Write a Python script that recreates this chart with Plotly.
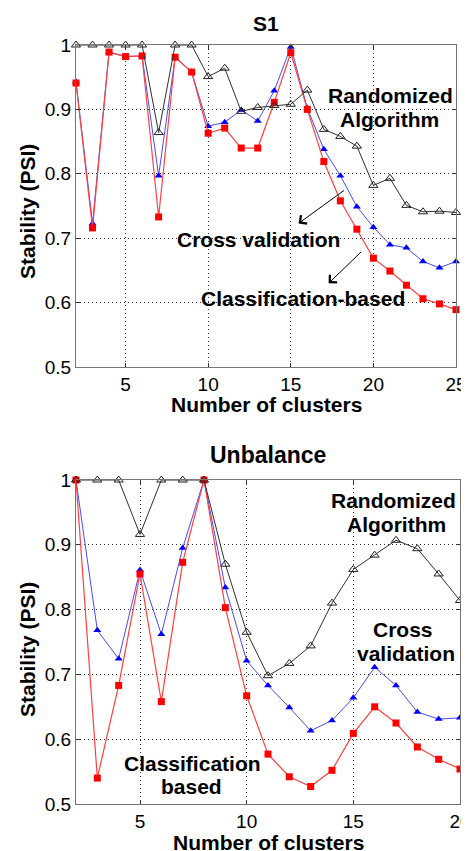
import plotly.graph_objects as go

# ---------------- data ----------------
s1_k = list(range(2, 26))
s1_randomized = [1.0, 1.0, 1.0, 1.0, 1.0, 0.864, 1.0, 1.0, 0.951, 0.964, 0.897, 0.903,
                 0.906, 0.908, 0.930, 0.869, 0.858, 0.843, 0.782, 0.793, 0.751, 0.741,
                 0.742, 0.740]
s1_cross = [0.943, 0.723, 0.989, 0.982, 0.983, 0.797, 0.981, 0.958, 0.874, 0.880, 0.899,
            0.882, 0.929, 0.997, 0.902, 0.838, 0.797, 0.749, 0.717, 0.690, 0.685, 0.664,
            0.654, 0.664]
s1_class = [0.941, 0.716, 0.989, 0.982, 0.983, 0.733, 0.981, 0.958, 0.863, 0.871, 0.840,
            0.840, 0.911, 0.988, 0.900, 0.819, 0.758, 0.714, 0.669, 0.649, 0.627, 0.606,
            0.598, 0.589]

ub_k = list(range(2, 21))
ub_randomized = [1.0, 1.0, 1.0, 0.916, 1.0, 1.0, 1.0, 0.870, 0.765, 0.698, 0.717, 0.744,
                 0.810, 0.862, 0.884, 0.907, 0.894, 0.855, 0.814]
ub_cross = [1.0, 0.768, 0.724, 0.861, 0.762, 0.895, 1.0, 0.834, 0.721, 0.683, 0.649,
            0.613, 0.629, 0.664, 0.711, 0.683, 0.642, 0.631, 0.633]
ub_class = [1.0, 0.540, 0.683, 0.855, 0.658, 0.873, 1.0, 0.803, 0.667, 0.577, 0.542,
            0.527, 0.552, 0.609, 0.650, 0.625, 0.588, 0.569, 0.554]

y_ticks = [0.5, 0.6, 0.7, 0.8, 0.9, 1.0]
y_ticktext = ["0.5", "0.6", "0.7", "0.8", "0.9", "1"]
s1_xticks = [5, 10, 15, 20, 25]
ub_xticks = [5, 10, 15, 20]

# ---------------- figure ----------------
# The page body has an 8px margin; lay the figure out 8px up/left so it
# fills the window.
OFF = 8
W, H = 469 - OFF, 851 - OFF
FONT = "Liberation Sans, Arial, Helvetica, sans-serif"


def fx(px):
    return (px - OFF) / W


def fy(py):
    return 1 - (py - OFF) / H


fig = go.Figure()


def add_series(k, cross, cls, rnd, xa, ya):
    fig.add_trace(go.Scatter(x=k, y=cross, mode="lines+markers", xaxis=xa, yaxis=ya,
                             line=dict(color="#4a4aff", width=1),
                             marker=dict(symbol="triangle-up", size=7, color="#0000ff"),
                             cliponaxis=False, showlegend=False))
    fig.add_trace(go.Scatter(x=k, y=cls, mode="lines+markers", xaxis=xa, yaxis=ya,
                             line=dict(color="#ff4040", width=1.2),
                             marker=dict(symbol="square", size=7, color="#ff0000"),
                             cliponaxis=False, showlegend=False))
    fig.add_trace(go.Scatter(x=k, y=rnd, mode="lines+markers", xaxis=xa, yaxis=ya,
                             line=dict(color="#303030", width=1),
                             marker=dict(symbol="triangle-up-open", size=8, color="#202020",
                                         line=dict(width=1, color="#202020")),
                             cliponaxis=False, showlegend=False))


add_series(s1_k, s1_cross, s1_class, s1_randomized, "x", "y")
add_series(ub_k, ub_cross, ub_class, ub_randomized, "x2", "y2")

axis_common = dict(showline=True, linecolor="#777777", linewidth=1, mirror="ticks",
                   ticks="inside", ticklen=4, tickcolor="#333333", automargin=False,
                   ticklabeloverflow="allow",
                   showgrid=True, gridcolor="#333333", griddash="1px,3px", gridwidth=1,
                   zeroline=False, tickfont=dict(family=FONT, size=19, color="black"))

fig.update_layout(
    width=W, height=H,
    margin=dict(l=0, r=0, t=0, b=0),
    paper_bgcolor="white", plot_bgcolor="white",
    xaxis=dict(domain=[fx(76), fx(456)], range=[2, 25], tickvals=s1_xticks,
               anchor="y", **axis_common),
    yaxis=dict(domain=[fy(367), fy(45)], range=[0.5, 1], tickvals=y_ticks,
               ticktext=y_ticktext, anchor="x", **axis_common),
    xaxis2=dict(domain=[fx(76), fx(460)], range=[2, 20], tickvals=ub_xticks,
                anchor="y2", **axis_common),
    yaxis2=dict(domain=[fy(804), fy(480)], range=[0.5, 1], tickvals=y_ticks,
                ticktext=y_ticktext, anchor="x2", **axis_common),
)

BF = dict(family=FONT, size=21, color="black", weight="bold")
ann = []


def ptext(text, x, y, size=21, angle=0):
    ann.append(dict(text=text, x=fx(x), y=fy(y), xref="paper", yref="paper",
                    showarrow=False, xanchor="center", yanchor="middle",
                    textangle=angle, font=dict(BF, size=size)))


def dtext(text, x, y, xr, yr):
    ann.append(dict(text=text, x=x, y=y, xref=xr, yref=yr, showarrow=False,
                    xanchor="center", yanchor="middle", font=BF))


def arrow(x0, y0, x1, y1, xr, yr):
    ann.append(dict(text="", x=x1, y=y1, ax=x0, ay=y0, xref=xr, yref=yr,
                    axref=xr, ayref=yr, showarrow=True, arrowhead=4, arrowsize=2,
                    arrowwidth=1, arrowcolor="black"))


# titles and axis labels
ptext("S1", 266, 23)
ptext("Unbalance", 268, 455, size=23)
ptext("Number of clusters", 266, 404)
ptext("Number of clusters", 268, 842)
ptext("Stability (PSI)", 27, 212, angle=-90)
ptext("Stability (PSI)", 27, 650, angle=-90)

# S1 annotations
dtext("Randomized", 21.04, 0.922, "x", "y")
dtext("Algorithm", 21.0, 0.885, "x", "y")
dtext("Cross validation", 13.05, 0.698, "x", "y")
dtext("Classification-based", 15.75, 0.607, "x", "y")
arrow(18.32, 0.776, 15.47, 0.723, "x", "y")
arrow(19.35, 0.681, 17.29, 0.630, "x", "y")

# Unbalance annotations
dtext("Randomized", 16.9, 0.969, "x2", "y2")
dtext("Algorithm", 17.0, 0.932, "x2", "y2")
dtext("Cross", 17.35, 0.770, "x2", "y2")
dtext("validation", 17.45, 0.733, "x2", "y2")
dtext("Classification", 7.45, 0.563, "x2", "y2")
dtext("based", 7.4, 0.527, "x2", "y2")

fig.update_layout(annotations=ann)

fig.write_html("out.html")
